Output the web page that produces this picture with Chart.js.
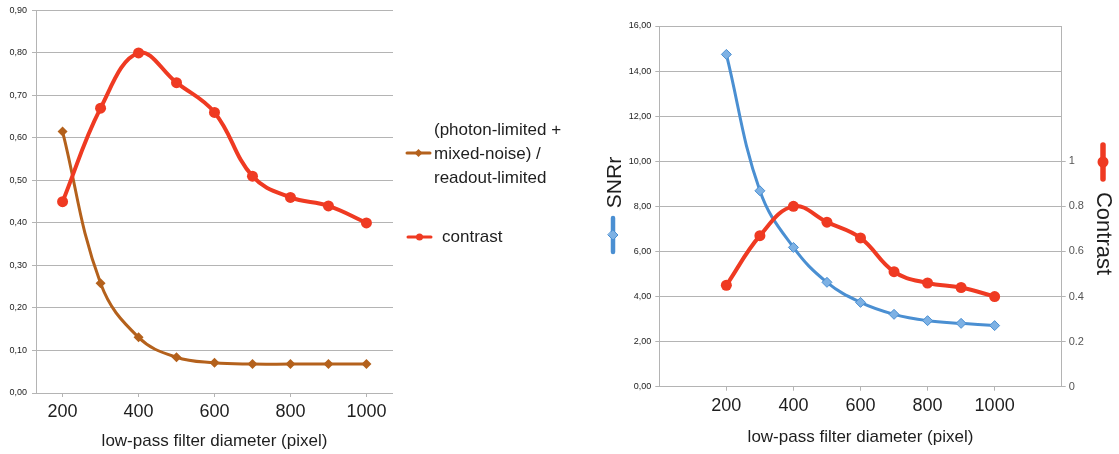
<!DOCTYPE html>
<html><head><meta charset="utf-8">
<script src="https://cdn.jsdelivr.net/npm/chart.js@4/dist/chart.umd.min.js"></script>
<style>
html,body{margin:0;padding:0;background:#fff;width:1119px;height:454px;overflow:hidden}
canvas{position:absolute;top:0}
#c1{left:0}
#c2{left:600px}
</style></head><body>
<canvas id="c1" width="600" height="454"></canvas>
<canvas id="c2" width="519" height="454"></canvas>
<script>
// ---- data ----
const diameters = [200, 300, 400, 500, 600, 700, 800, 900, 1000];
const xTickLabels = [200, 400, 600, 800, 1000];
const noiseRatio = [0.615, 0.258, 0.131, 0.084, 0.071, 0.068, 0.068, 0.068, 0.068];
const contrast = [0.45, 0.67, 0.80, 0.73, 0.66, 0.51, 0.46, 0.44, 0.40];
const snrr = [14.74, 8.69, 6.18, 4.63, 3.74, 3.21, 2.93, 2.81, 2.71];
const leftYTicks = [0, 0.1, 0.2, 0.3, 0.4, 0.5, 0.6, 0.7, 0.8, 0.9];
const snrTicks = [0, 2, 4, 6, 8, 10, 12, 14, 16];
const contrastAxisTicks = [0, 0.2, 0.4, 0.6, 0.8, 1];
const noiseLegendLines = ["(photon-limited +", "mixed-noise) /", "readout-limited"];
const contrastLegend = "contrast";
const xTitle = "low-pass filter diameter (pixel)";
const snrTitle = "SNRr";
const contrastTitle = "Contrast";

// ---- style ----
const FONT = '"Liberation Sans", Arial, Helvetica, sans-serif';
const BROWN = '#b4611c';
const RED = '#ef3a22';
const BLUE = '#4a8fd2';
const BLUE_PT = '#7db1e4';
const GRID = '#b4b4b4';
const TXT = '#1e1e1e';

const pts = ys => diameters.map((x, i) => ({x, y: ys[i]}));
const comma = v => Number(v).toFixed(2).replace('.', ',');
const plain = v => String(v);
const setTicks = arr => s => { s.ticks = arr.map(v => ({value: v})); };

function diamond(ctx, x, y, r, fill, stroke) {
  ctx.beginPath();
  ctx.moveTo(x, y - r); ctx.lineTo(x + r, y); ctx.lineTo(x, y + r); ctx.lineTo(x - r, y); ctx.closePath();
  ctx.fillStyle = fill; ctx.fill();
  if (stroke) { ctx.strokeStyle = stroke; ctx.lineWidth = 1; ctx.stroke(); }
}
function circle(ctx, x, y, r, fill) {
  ctx.beginPath(); ctx.arc(x, y, r, 0, Math.PI * 2); ctx.fillStyle = fill; ctx.fill();
}

const leftLegend = {
  id: 'leftLegend',
  afterDraw(chart) {
    const ctx = chart.ctx, a = chart.chartArea;
    const x0 = a.right + 14;
    ctx.save();
    ctx.lineCap = 'round';
    // brown
    ctx.strokeStyle = BROWN; ctx.lineWidth = 3;
    ctx.beginPath(); ctx.moveTo(x0, 153); ctx.lineTo(x0 + 23, 153); ctx.stroke();
    diamond(ctx, x0 + 11.5, 153, 4, BROWN);
    ctx.font = '17px ' + FONT; ctx.fillStyle = TXT; ctx.textAlign = 'left'; ctx.textBaseline = 'middle';
    noiseLegendLines.forEach((t, i) => ctx.fillText(t, x0 + 27, 130 + i * 24));
    // red
    ctx.strokeStyle = RED; ctx.lineWidth = 3;
    ctx.beginPath(); ctx.moveTo(x0 + 1, 237); ctx.lineTo(x0 + 24, 237); ctx.stroke();
    circle(ctx, x0 + 12.5, 237, 3.5, RED);
    ctx.fillStyle = TXT;
    ctx.fillText(contrastLegend, x0 + 35, 237);
    ctx.restore();
  }
};

new Chart(document.getElementById('c1'), {
  type: 'line',
  data: {datasets: [
    {label: contrastLegend, data: pts(contrast), borderColor: RED, backgroundColor: RED,
     borderWidth: 4, pointStyle: 'circle', pointRadius: 5.5, pointBorderWidth: 0, tension: 0.4},
    {label: noiseLegendLines.join(' '), data: pts(noiseRatio), borderColor: BROWN, backgroundColor: BROWN,
     borderWidth: 3, pointStyle: 'rectRot', pointRadius: 5, pointBorderWidth: 0, tension: 0.4}
  ]},
  options: {
    responsive: false, animation: false, devicePixelRatio: 1,
    layout: {padding: {top: 10, right: 207, left: 0, bottom: 0}},
    plugins: {legend: {display: false}, tooltip: {enabled: false}},
    scales: {
      x: {type: 'linear', min: 130, max: 1070,
        afterBuildTicks: setTicks(xTickLabels), afterFit: s => { s.height = 61; },
        grid: {drawOnChartArea: false, tickLength: 4, color: GRID},
        border: {display: false},
        ticks: {padding: 4, font: {family: FONT, size: 18}, color: TXT, maxRotation: 0, autoSkip: false, callback: plain},
        title: {display: true, text: xTitle, font: {family: FONT, size: 17}, color: TXT, padding: {top: 0, bottom: 2}}
      },
      y: {min: 0, max: 0.9,
        afterBuildTicks: setTicks(leftYTicks), afterFit: s => { s.width = 36; },
        grid: {color: GRID, tickLength: 4},
        border: {color: GRID},
        ticks: {padding: 5, font: {family: FONT, size: 9}, color: '#222', callback: comma}
      }
    }
  },
  plugins: [leftLegend]
});

const rightTitles = {
  id: 'rightTitles',
  afterDraw(chart) {
    const ctx = chart.ctx;
    const yl = chart.scales.y, yr = chart.scales.y1;
    ctx.save();
    ctx.fillStyle = TXT; ctx.textAlign = 'center'; ctx.textBaseline = 'middle';
    // SNRr
    ctx.font = '21px ' + FONT;
    ctx.save(); ctx.translate(yl.left + 15, 182.5); ctx.rotate(-Math.PI / 2); ctx.fillText(snrTitle, 0, 0); ctx.restore();
    ctx.lineCap = 'round';
    ctx.strokeStyle = BLUE; ctx.lineWidth = 4.5;
    ctx.beginPath(); ctx.moveTo(yl.left + 13, 218); ctx.lineTo(yl.left + 13, 252); ctx.stroke();
    diamond(ctx, yl.left + 13, 235, 5, BLUE_PT, BLUE);
    // Contrast
    ctx.fillStyle = TXT;
    ctx.font = '22px ' + FONT;
    ctx.save(); ctx.translate(yr.right - 16, 233.5); ctx.rotate(Math.PI / 2); ctx.fillText(contrastTitle, 0, 0); ctx.restore();
    ctx.strokeStyle = RED; ctx.lineWidth = 5.5;
    ctx.beginPath(); ctx.moveTo(yr.right - 16, 145); ctx.lineTo(yr.right - 16, 179); ctx.stroke();
    circle(ctx, yr.right - 16, 162, 5.5, RED);
    ctx.restore();
  }
};

new Chart(document.getElementById('c2'), {
  type: 'line',
  data: {datasets: [
    {label: contrastTitle, data: pts(contrast), yAxisID: 'y1', borderColor: RED, backgroundColor: RED,
     borderWidth: 4, pointStyle: 'circle', pointRadius: 5.5, pointBorderWidth: 0, tension: 0.4},
    {label: snrTitle, data: pts(snrr), yAxisID: 'y', borderColor: BLUE, backgroundColor: BLUE_PT,
     borderWidth: 3, pointStyle: 'rectRot', pointRadius: 5, pointBorderWidth: 1, pointBorderColor: BLUE, tension: 0.4}
  ]},
  options: {
    responsive: false, animation: false, devicePixelRatio: 1,
    layout: {padding: {top: 26, right: 0, left: 0, bottom: 0}},
    plugins: {legend: {display: false}, tooltip: {enabled: false}},
    scales: {
      x: {type: 'linear', min: 0, max: 1200,
        afterBuildTicks: setTicks(xTickLabels), afterFit: s => { s.height = 67.3; },
        grid: {drawOnChartArea: false, tickLength: 4, color: GRID},
        border: {display: false},
        ticks: {padding: 5, font: {family: FONT, size: 18}, color: TXT, maxRotation: 0, autoSkip: false, callback: plain},
        title: {display: true, text: xTitle, font: {family: FONT, size: 17}, color: TXT, padding: {top: 0, bottom: 6}}
      },
      y: {position: 'left', min: 0, max: 16,
        afterBuildTicks: setTicks(snrTicks), afterFit: s => { s.width = 59.3; },
        grid: {color: GRID, tickLength: 4},
        border: {color: GRID},
        ticks: {padding: 4, font: {family: FONT, size: 9}, color: '#222', callback: comma}
      },
      y1: {position: 'right', min: 0, max: 1.6,
        afterBuildTicks: setTicks(contrastAxisTicks), afterFit: s => { s.width = 57.3; },
        grid: {drawOnChartArea: false, tickLength: 4, color: GRID},
        border: {color: GRID},
        ticks: {padding: 3, font: {family: FONT, size: 11}, color: '#555', callback: plain}
      }
    }
  },
  plugins: [rightTitles]
});
</script>
</body></html>
